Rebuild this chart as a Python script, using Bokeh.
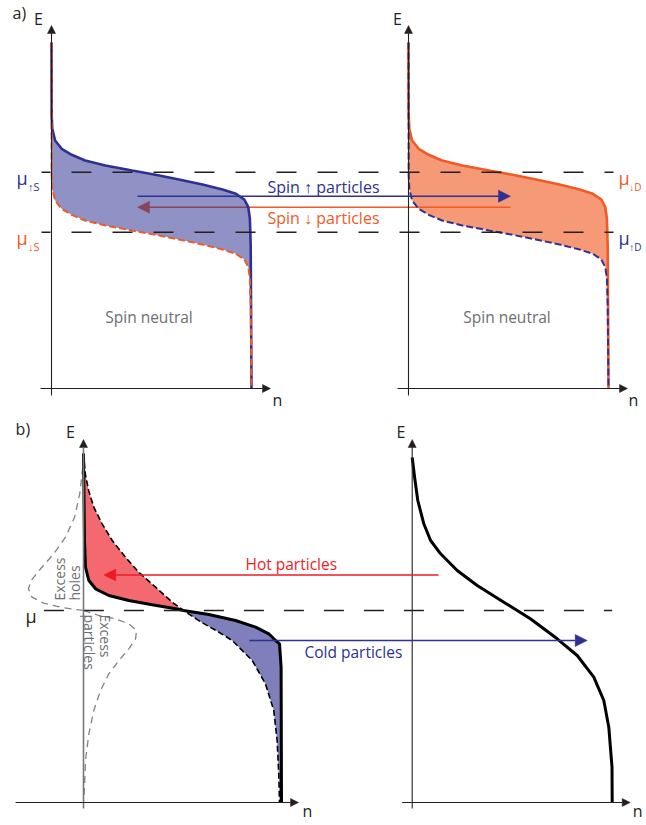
import numpy as np
from bokeh.plotting import figure
from bokeh.models import Range1d, Arrow, NormalHead
from bokeh.core.properties import value
from bokeh.embed import file_html
from bokeh.resources import INLINE

# ---------------- data ----------------
# (a) occupation profile: offset from chemical potential (E units) and occupation n
a_dE = [0.567, 0.434, 0.317, 0.234, 0.174, 0.117, 0.067, 0.017, -0.026, -0.073,
        -0.123, -0.173, -0.216, -0.273, -0.35, -0.466, -0.733]
a_n = [0.001, 0.004, 0.018, 0.051, 0.101, 0.168, 0.269, 0.403, 0.520, 0.637,
       0.755, 0.855, 0.922, 0.964, 0.984, 0.992, 0.996]
a_E_top = 3.46
mu_up_S, mu_dn_S = 2.163, 1.563
mu_dn_D, mu_up_D = 2.163, 1.563

# (b) cold (sharp) distribution, left panel
b_cold_dE = [0.70, 0.433, 0.30, 0.217, 0.15, 0.10, 0.057, 0.017, 0.0, -0.04,
             -0.10, -0.167, -0.233, -0.30, -0.333, -0.567]
b_cold_n = [0.005, 0.010, 0.027, 0.061, 0.128, 0.229, 0.347, 0.465, 0.505, 0.633,
            0.768, 0.869, 0.936, 0.970, 0.990, 0.998]
# (b) hot (broad) distribution, left panel (dashed)
b_hot_dE = [1.367, 1.20, 1.033, 0.867, 0.70, 0.533, 0.383, 0.233, 0.083, 0.0,
            -0.117, -0.217, -0.30, -0.50, -0.733, -1.00, -1.30, -1.633]
b_hot_n = [0.009, 0.026, 0.052, 0.094, 0.145, 0.212, 0.279, 0.364, 0.448, 0.505,
           0.595, 0.684, 0.751, 0.852, 0.919, 0.961, 0.978, 0.986]
b_hot_bottom_n = 0.99
# (b) right panel distribution
br_dE = [1.333, 1.10, 0.867, 0.70, 0.567, 0.40, 0.25, 0.083, -0.083, -0.283,
         -0.45, -0.667, -0.90, -1.167, -1.567]
br_n = [0.012, 0.028, 0.058, 0.092, 0.142, 0.225, 0.325, 0.458, 0.591, 0.725,
        0.825, 0.908, 0.958, 0.983, 0.999]
b_E_top = 3.49
br_E_top = 3.45
mu_b = 1.92
# excess holes / particles profiles
holes_dE = [1.55, 1.433, 1.167, 0.933, 0.733, 0.567, 0.417, 0.30, 0.217, 0.133, 0.073, 0.027, 0.0]
holes_n = [0.0, -0.0035, -0.019, -0.045, -0.091, -0.150, -0.217, -0.264, -0.278, -0.260, -0.201, -0.100, 0.0]
parts_dE = [0.0, -0.05, -0.083, -0.133, -0.20, -0.283, -0.383, -0.50, -0.633, -0.80,
            -1.00, -1.233, -1.50, -1.767, -1.90]
parts_n = [0.0, 0.077, 0.162, 0.229, 0.268, 0.263, 0.229, 0.179, 0.128, 0.086,
           0.052, 0.027, 0.010, 0.005, 0.001]

# ---------------- styles ----------------
NAVY = "#2E3192"
ORANGE = "#F15A24"
RED = "#ED1C24"
DARK = "#231F20"
GRAYT = "#6D6E71"
GRAYD = "#808285"
FONT = value("Open Sans")

# panel placement (layout)
AL = dict(x0=0.0, y0=4.29, sx=1.0)
AR = dict(x0=1.785, y0=4.29, sx=1.0)
BL = dict(x0=0.16, y0=0.15, sx=0.99)
BR = dict(x0=1.8035, y0=0.15, sx=1.0)

W, H = 644, 824
X_START = -0.255
Y_START = -0.07


def X(P, n):
    return list(P["x0"] + P["sx"] * np.asarray(n, dtype=float))


def Y(P, E):
    return list(P["y0"] + np.asarray(E, dtype=float))


def a_curve(mu):
    E = [a_E_top] + [mu + d for d in a_dE] + [0.0]
    n = [0.0] + list(a_n) + [1.0]
    return n, E


p = figure(width=W, height=H,
           x_range=Range1d(X_START, X_START + W / 200.0),
           y_range=Range1d(Y_START, Y_START + H / 100.0),
           output_backend="svg", toolbar_location=None, min_border=0,
           x_axis_location=None, y_axis_location=None)
p.grid.visible = False
p.outline_line_color = None
p.background_fill_color = "white"


def axes(P, ybot, ytop, xl, xr):
    p.add_layout(Arrow(end=NormalHead(size=8, fill_color=DARK, line_color=DARK, line_width=0.5),
                       x_start=X(P, [0])[0], y_start=Y(P, [ybot])[0],
                       x_end=X(P, [0])[0], y_end=Y(P, [ytop])[0],
                       line_color=DARK, line_width=1.1))
    p.add_layout(Arrow(end=NormalHead(size=8, fill_color=DARK, line_color=DARK, line_width=0.5),
                       x_start=X(P, [xl])[0], y_start=Y(P, [0])[0],
                       x_end=X(P, [xr])[0], y_end=Y(P, [0])[0],
                       line_color=DARK, line_width=1.1))


def label(P, n, E, txt, color=DARK, size="15px", align="center", baseline="middle", angle=0.0):
    p.text(x=X(P, [n]), y=Y(P, [E]), text=[txt], text_font=FONT, text_font_size=size,
           text_color=color, text_align=align, text_baseline=baseline, angle=angle)


# ================= panel a =================
axes(AL, -0.07, 3.63, -0.055, 1.095)
axes(AR, -0.07, 3.63, -0.055, 1.095)

# spin-down arrow (drawn under the blue fill)
p.add_layout(Arrow(end=NormalHead(size=12, fill_color=ORANGE, line_color=ORANGE, line_width=0.5),
                   x_start=X(AL, [2.295])[0], y_start=Y(AL, [1.813])[0],
                   x_end=X(AL, [0.43])[0], y_end=Y(AL, [1.813])[0],
                   line_color=ORANGE, line_width=1.6, level="underlay"))

nU, EU = a_curve(mu_up_S)
nD, ED = a_curve(mu_dn_S)
p.patch(X(AL, nU + nD[::-1]), Y(AL, EU + ED[::-1]), fill_color=NAVY, fill_alpha=0.53, line_color=None)
p.line(X(AL, nU), Y(AL, EU), line_color=NAVY, line_width=2.6)
p.line(X(AL, nD), Y(AL, ED), line_color=ORANGE, line_width=2.0, line_dash="7 3")

nD2, ED2 = a_curve(mu_dn_D)
nU2, EU2 = a_curve(mu_up_D)
p.patch(X(AR, nD2 + nU2[::-1]), Y(AR, ED2 + EU2[::-1]), fill_color=ORANGE, fill_alpha=0.62, line_color=None)
p.line(X(AR, nD2), Y(AR, ED2), line_color=ORANGE, line_width=2.6)
p.line(X(AR, nU2), Y(AR, EU2), line_color=NAVY, line_width=2.0, line_dash="7 3")

# chemical potential lines
for mu in (mu_up_S, mu_dn_S):
    p.line(x=[X(AL, [-0.05])[0], X(AL, [2.81])[0]], y=Y(AL, [mu, mu]), line_color=DARK,
           line_width=1.4, line_dash="20 21", line_dash_offset=11)

# spin-up arrow
p.add_layout(Arrow(end=NormalHead(size=12, fill_color=NAVY, line_color=NAVY, line_width=0.5),
                   x_start=X(AL, [0.43])[0], y_start=Y(AL, [1.923])[0],
                   x_end=X(AL, [2.295])[0], y_end=Y(AL, [1.923])[0],
                   line_color=NAVY, line_width=1.6))

label(AL, -0.195, 3.755, "a)", size="16px", align="left")
label(AL, -0.065, 3.695, "E", size="16px")
label(AL, 1.13, -0.11, "n", size="16px")
label(AR, -0.055, 3.695, "E", size="16px")
label(AR, 1.125, -0.11, "n", size="16px")

# mu labels
label(AL, -0.175, mu_up_S - 0.053, "μ", color=NAVY, size="18px", align="left", baseline="alphabetic")
label(AL, -0.118, mu_up_S - 0.145, "↑S", color=NAVY, size="11px", align="left", baseline="alphabetic")
label(AL, -0.175, mu_dn_S - 0.053, "μ", color=ORANGE, size="18px", align="left", baseline="alphabetic")
label(AL, -0.118, mu_dn_S - 0.145, "↓S", color=ORANGE, size="11px", align="left", baseline="alphabetic")
label(AR, 1.05, mu_dn_D - 0.053, "μ", color=ORANGE, size="18px", align="left", baseline="alphabetic")
label(AR, 1.104, mu_dn_D - 0.145, "↓D", color=ORANGE, size="10px", align="left", baseline="alphabetic")
label(AR, 1.05, mu_up_D - 0.053, "μ", color=NAVY, size="18px", align="left", baseline="alphabetic")
label(AR, 1.104, mu_up_D - 0.145, "↑D", color=NAVY, size="10px", align="left", baseline="alphabetic")

label(AL, 1.08, 2.013, "Spin ↑ particles", color=NAVY, size="16px", align="left")
label(AL, 1.08, 1.707, "Spin ↓ particles", color=ORANGE, size="16px", align="left")
label(AL, 0.4875, 0.72, "Spin neutral", color=GRAYT, size="15.5px")
label(AR, 0.4925, 0.72, "Spin neutral", color=GRAYT, size="15.5px")

# ================= panel b =================
# left axes (vertical one gray)
p.add_layout(Arrow(end=NormalHead(size=8, fill_color=DARK, line_color=DARK, line_width=0.5),
                   x_start=X(BL, [0])[0], y_start=Y(BL, [-0.06])[0],
                   x_end=X(BL, [0])[0], y_end=Y(BL, [3.63])[0],
                   line_color="#77787B", line_width=1.6))
p.add_layout(Arrow(end=NormalHead(size=8, fill_color=DARK, line_color=DARK, line_width=0.5),
                   x_start=X(BL, [-0.343])[0], y_start=Y(BL, [0])[0],
                   x_end=X(BL, [1.086])[0], y_end=Y(BL, [0])[0],
                   line_color=DARK, line_width=1.1))
axes(BR, -0.06, 3.63, -0.05, 1.09)

cold_n = [0.0] + list(b_cold_n) + [1.0]
cold_E = [b_E_top] + [mu_b + d for d in b_cold_dE] + [0.0]
hot_n = [0.0] + list(b_hot_n) + [b_hot_bottom_n]
hot_E = [b_E_top] + [mu_b + d for d in b_hot_dE] + [0.0]

up_c = [i for i, e in enumerate(cold_E) if e >= mu_b]
up_h = [i for i, e in enumerate(hot_E) if e >= mu_b]
lo_c = [i for i, e in enumerate(cold_E) if e <= mu_b]
lo_h = [i for i, e in enumerate(hot_E) if e <= mu_b]

red_n = [cold_n[i] for i in up_c] + [hot_n[i] for i in up_h][::-1]
red_E = [cold_E[i] for i in up_c] + [hot_E[i] for i in up_h][::-1]
blu_n = [cold_n[i] for i in lo_c] + [hot_n[i] for i in lo_h][::-1]
blu_E = [cold_E[i] for i in lo_c] + [hot_E[i] for i in lo_h][::-1]
p.patch(X(BL, red_n), Y(BL, red_E), fill_color=RED, fill_alpha=0.66, line_color=None)
p.patch(X(BL, blu_n), Y(BL, blu_E), fill_color=NAVY, fill_alpha=0.62, line_color=None)

# excess profiles
p.line(X(BL, holes_n), Y(BL, [mu_b + d for d in holes_dE]), line_color=GRAYD, line_width=1.3, line_dash="7 5")
p.line(X(BL, parts_n), Y(BL, [mu_b + d for d in parts_dE]), line_color=GRAYD, line_width=1.3, line_dash="7 5")

p.line(X(BL, hot_n), Y(BL, hot_E), line_color="black", line_width=1.6, line_dash="6 3")
p.line(X(BL, cold_n), Y(BL, cold_E), line_color="black", line_width=3.0)

r_n = [0.0] + list(br_n) + [1.0]
r_E = [br_E_top] + [mu_b + d for d in br_dE] + [0.0]
p.line(X(BR, r_n), Y(BR, r_E), line_color="black", line_width=3.0)

p.line(x=[X(BL, [-0.2])[0], X(BR, [1.0])[0]], y=Y(BL, [mu_b, mu_b]), line_color=DARK,
       line_width=1.4, line_dash="20 20", line_dash_offset=0)

# hot / cold arrows
p.add_layout(Arrow(end=NormalHead(size=12, fill_color=RED, line_color=RED, line_width=0.5),
                   x_start=X(BL, [1.793])[0], y_start=Y(BL, [2.275])[0],
                   x_end=X(BL, [0.1025])[0], y_end=Y(BL, [2.275])[0],
                   line_color=RED, line_width=1.6))
p.add_layout(Arrow(end=NormalHead(size=12, fill_color=NAVY, line_color=NAVY, line_width=0.5),
                   x_start=X(BL, [0.838])[0], y_start=Y(BL, [1.62])[0],
                   x_end=X(BL, [2.544])[0], y_end=Y(BL, [1.62])[0],
                   line_color=NAVY, line_width=1.6))

label(BL, 0.818, 2.387, "Hot particles", color=RED, size="15.5px", align="left")
label(BL, 1.116, 1.503, "Cold particles", color=NAVY, size="15.5px", align="left")

label(BL, -0.343, 3.74, "b)", size="16px", align="left")
label(BL, -0.066, 3.705, "E", size="16px")
label(BL, 1.131, -0.085, "n", size="16px")
label(BR, -0.056, 3.705, "E", size="16px")
label(BR, 1.127, -0.085, "n", size="16px")
label(BL, -0.293, mu_b - 0.05, "μ", size="18px", align="left", baseline="alphabetic")

# rotated annotations
label(BL, -0.121, mu_b + 0.10, "Excess", color=GRAYT, size="14px", align="left", angle=np.pi / 2)
label(BL, -0.045, mu_b + 0.10, "holes", color=GRAYT, size="14px", align="left", angle=np.pi / 2)
label(BL, 0.111, mu_b - 0.04, "Excess", color=GRAYT, size="14px", align="left", angle=-np.pi / 2)
label(BL, 0.03, mu_b - 0.04, "particles", color=GRAYT, size="14px", align="left", angle=-np.pi / 2)

open("out.html", "w").write(file_html(p, INLINE))
